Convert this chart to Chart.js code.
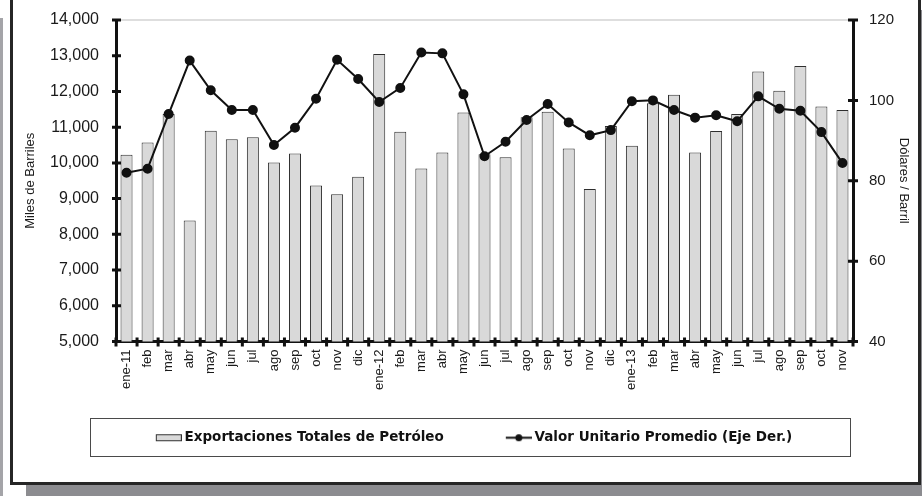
<!DOCTYPE html>
<html>
<head>
<meta charset="utf-8">
<script src="https://cdn.jsdelivr.net/npm/chart.js@4.4.1/dist/chart.umd.min.js"></script>
<style>
  html, body { margin: 0; padding: 0; background: #fff; }
  body { width: 922px; height: 496px; position: relative; overflow: hidden; }
  .strip { position: absolute; left: 0; top: 18px; width: 3px; height: 478px; background: #a4a4a8; }
  .shadow { position: absolute; left: 26px; top: 10px; width: 896px; height: 486px; background: #8c8c90; }
  .frame { position: absolute; left: 10px; top: -10px; width: 911px; height: 495px; box-sizing: border-box;
           border: 3px solid #262626; background: #fff; }
  .legendBox { position: absolute; left: 90px; top: 418px; width: 761px; height: 39px; box-sizing: border-box;
               border: 1px solid #4a4a4a; }
  canvas { position: absolute; left: 0; top: 0; }
</style>
</head>
<body>
<div class="strip"></div>
<div class="shadow"></div>
<div class="frame"></div>
<div class="legendBox"></div>
<canvas id="myChart" width="922" height="496"></canvas>
<script>
// datos
const meses = ['ene-11', 'feb', 'mar', 'abr', 'may', 'jun', 'jul', 'ago', 'sep', 'oct', 'nov', 'dic',
    'ene-12', 'feb', 'mar', 'abr', 'may', 'jun', 'jul', 'ago', 'sep', 'oct', 'nov', 'dic',
    'ene-13', 'feb', 'mar', 'abr', 'may', 'jun', 'jul', 'ago', 'sep', 'oct', 'nov'];

// miles de barriles
const exportaciones = [10230, 10570, 11370, 8390, 10900, 10660, 10720, 10010, 10260, 9370, 9120, 9610,
    13050, 10870, 9840, 10290, 11410, 10240, 10160, 11280, 11430, 10400, 9270, 11030,
    10480, 11670, 11910, 10290, 10890, 11370, 12560, 12020, 12710, 11580, 11480];

// dolares por barril
const valorUnitario = [82.0, 83.0, 96.6, 109.9, 102.5, 97.6, 97.6, 88.9, 93.2, 100.4, 110.1, 105.3,
    99.6, 103.1, 111.9, 111.7, 101.5, 86.1, 89.7, 95.1, 99.1, 94.5, 91.3, 92.6,
    99.8, 100.0, 97.6, 95.7, 96.3, 94.8, 101.0, 97.9, 97.4, 92.1, 84.4];

const ejeIzq = { min: 5000, max: 14000, paso: 1000 };
const ejeDer = { min: 40, max: 120, paso: 20 };

const FONT = "'Liberation Sans', Arial, sans-serif";
const INK = '#1a1a1a';
const NADA = 'rgba(0,0,0,0)';

// muestras de la leyenda (la parte visible queda a la derecha de la imagen)
function muestra(w, h, dibujar) {
    const c = document.createElement('canvas');
    c.width = w;
    c.height = h;
    dibujar(c.getContext('2d'), w, h);
    return c;
}
const muestraBarra = muestra(56, 9, (g, w, h) => {
    g.fillStyle = '#d9d9d9';
    g.fillRect(w - 25.5, 1.5, 25, h - 3);
    g.strokeStyle = '#333';
    g.lineWidth = 1;
    g.strokeRect(w - 25.5, 1.5, 25, h - 3);
});
const muestraLinea = muestra(56, 9, (g, w, h) => {
    g.strokeStyle = '#111';
    g.lineWidth = 2;
    g.beginPath();
    g.moveTo(w - 26, h / 2);
    g.lineTo(w, h / 2);
    g.stroke();
    g.fillStyle = '#111';
    g.beginPath();
    g.arc(w - 13, h / 2, 3.5, 0, Math.PI * 2);
    g.fill();
});

// marcas que cruzan los ejes
const marcasCruzadas = {
    id: 'marcasCruzadas',
    afterDraw(chart) {
        const { ctx, scales: { x, y, y1 } } = chart;
        ctx.save();
        ctx.strokeStyle = '#111';
        ctx.lineWidth = 3;
        ctx.beginPath();
        y.ticks.forEach(t => {
            const py = y.getPixelForValue(t.value);
            ctx.moveTo(y.right - 4, py);
            ctx.lineTo(y.right + 5, py);
        });
        y1.ticks.forEach(t => {
            const py = y1.getPixelForValue(t.value);
            ctx.moveTo(y1.left - 5, py);
            ctx.lineTo(y1.left + 5, py);
        });
        const n = chart.data.labels.length;
        const paso = (x.right - x.left) / n;
        for (let i = 0; i <= n; i++) {
            const px = x.left + i * paso;
            ctx.moveTo(px, x.top - 4);
            ctx.lineTo(px, x.top + 5);
        }
        ctx.stroke();
        ctx.restore();
    }
};

const ctx = document.getElementById('myChart').getContext('2d');
new Chart(ctx, {
    type: 'bar',
    data: {
        labels: meses,
        datasets: [{
                type: 'bar',
                label: 'Exportaciones Totales de Petróleo',
                data: exportaciones,
                backgroundColor: '#d9d9d9',
                borderColor: '#2e2e2e',
                borderWidth: 1,
                categoryPercentage: 1,
                barPercentage: 0.57,
                yAxisID: 'y',
                order: 2
            },
            {
                type: 'line',
                label: 'Valor Unitario Promedio (Eje Der.)',
                data: valorUnitario,
                borderColor: '#111',
                borderWidth: 2,
                pointRadius: 4,
                pointBackgroundColor: '#111',
                pointBorderColor: '#111',
                tension: 0,
                yAxisID: 'y1',
                order: 1
            }
        ]
    },
    options: {
        responsive: false,
        animation: false,
        devicePixelRatio: 1,
        layout: {
            padding: { left: 0, right: 0, top: 20, bottom: 41.5 }
        },
        plugins: {
            tooltip: { enabled: false },
            legend: {
                position: 'bottom',
                labels: {
                    usePointStyle: true,
                    pointStyleWidth: 48,
                    boxHeight: 9,
                    padding: 36,
                    color: '#111',
                    font: { family: "'DejaVu Sans', sans-serif", size: 13.5, weight: 'bold' },
                    generateLabels(chart) {
                        const items = Chart.defaults.plugins.legend.labels.generateLabels(chart);
                        items.forEach(it => {
                            it.pointStyle = it.datasetIndex === 0 ? muestraBarra : muestraLinea;
                        });
                        return items.sort((a, b) => a.datasetIndex - b.datasetIndex);
                    }
                }
            }
        },
        scales: {
            x: {
                z: 1,
                grid: { display: false, drawTicks: false },
                border: { display: true, color: '#111', width: 3 },
                ticks: {
                    autoSkip: false,
                    minRotation: 90,
                    maxRotation: 90,
                    padding: 8,
                    color: INK,
                    font: { family: FONT, size: 13 }
                },
                afterFit(scale) { scale.height = 53.5; }
            },
            y: {
                position: 'left',
                z: 1,
                min: ejeIzq.min,
                max: ejeIzq.max,
                grid: {
                    drawTicks: true,
                    tickLength: 14,
                    tickColor: NADA,
                    lineWidth: 2,
                    color: c => c.tick && c.tick.value === ejeIzq.max ? '#dedede' : NADA
                },
                border: { display: true, color: '#111', width: 3 },
                ticks: {
                    stepSize: ejeIzq.paso,
                    padding: 3,
                    color: INK,
                    font: { family: FONT, size: 16 }
                },
                title: {
                    display: true,
                    text: 'Miles de Barriles',
                    color: INK,
                    padding: { top: 23, bottom: 0 },
                    font: { family: FONT, size: 13 }
                },
                afterFit(scale) { scale.width = 116; }
            },
            y1: {
                position: 'right',
                z: 1,
                min: ejeDer.min,
                max: ejeDer.max,
                grid: { display: false, drawTicks: true, tickLength: 13 },
                border: { display: true, color: '#111', width: 3 },
                ticks: {
                    stepSize: ejeDer.paso,
                    padding: 3,
                    color: INK,
                    font: { family: FONT, size: 15 }
                },
                title: {
                    display: true,
                    text: 'Dólares / Barril',
                    color: INK,
                    padding: { top: 11, bottom: 0 },
                    font: { family: FONT, size: 13 }
                },
                afterFit(scale) { scale.width = 69; }
            }
        }
    },
    plugins: [marcasCruzadas]
});
</script>
</body>
</html>
